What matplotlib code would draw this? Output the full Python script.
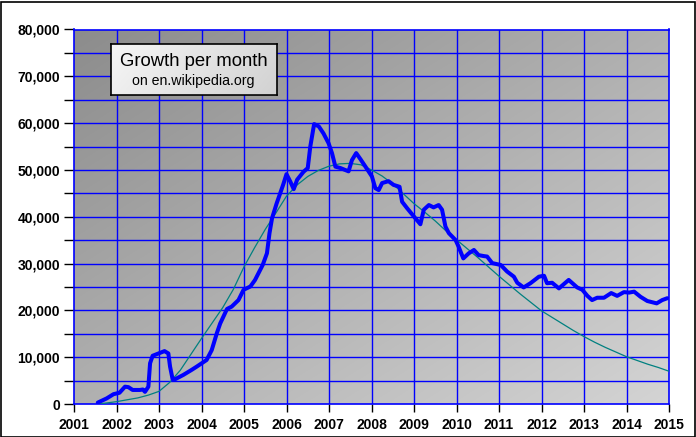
import numpy as np
import matplotlib
matplotlib.use("Agg")
import matplotlib.pyplot as plt
from matplotlib.patches import Rectangle
from matplotlib.ticker import MultipleLocator, FuncFormatter

# monthly growth of en.wikipedia (articles per month)
growth_years = [2001.56, 2001.77, 2001.93, 2002.07, 2002.20, 2002.28, 2002.38, 2002.55,
                2002.62, 2002.67, 2002.75, 2002.79, 2002.85, 2002.99, 2003.13, 2003.22,
                2003.26, 2003.32, 2003.38, 2003.57, 2003.77, 2003.89, 2004.12, 2004.24,
                2004.36, 2004.44, 2004.60, 2004.71, 2004.87, 2004.99, 2005.15, 2005.26,
                2005.44, 2005.54, 2005.60, 2005.66, 2005.77, 2005.92, 2006.00, 2006.09,
                2006.17, 2006.25, 2006.40, 2006.50, 2006.56, 2006.65, 2006.76, 2006.87,
                2006.99, 2007.07, 2007.15, 2007.27, 2007.46, 2007.54, 2007.64, 2007.74,
                2007.88, 2008.01, 2008.09, 2008.17, 2008.25, 2008.40, 2008.52, 2008.66,
                2008.72, 2008.84, 2009.03, 2009.15, 2009.23, 2009.35, 2009.46, 2009.58,
                2009.66, 2009.74, 2009.82, 2009.98, 2010.05, 2010.16, 2010.29, 2010.41,
                2010.52, 2010.64, 2010.72, 2010.84, 2011.04, 2011.19, 2011.35, 2011.43,
                2011.58, 2011.74, 2011.94, 2012.06, 2012.13, 2012.25, 2012.41, 2012.64,
                2012.84, 2012.96, 2013.08, 2013.19, 2013.31, 2013.47, 2013.64, 2013.78,
                2013.94, 2014.06, 2014.18, 2014.33, 2014.49, 2014.71, 2014.84, 2014.96]
growth_values = [300, 1200, 2100, 2400, 3700, 3600, 3000, 3000,
                 3100, 2600, 3700, 8700, 10300, 10800, 11300, 10800,
                 8000, 5300, 5300, 6200, 7300, 8000, 9400, 11500,
                 15100, 17200, 20300, 20800, 22200, 24400, 25100, 26500,
                 29700, 32200, 36500, 39700, 42900, 46800, 49100, 47500,
                 45900, 47900, 49600, 50400, 55000, 59800, 59300, 57800,
                 55700, 53600, 50700, 50400, 49700, 52100, 53600, 52300,
                 50400, 48600, 46100, 45700, 47200, 47600, 46800, 46400,
                 43200, 41800, 39700, 38400, 41500, 42500, 42000, 42500,
                 41500, 37900, 36500, 35000, 33600, 31100, 32200, 32900,
                 31800, 31600, 31500, 30100, 29700, 28300, 27200, 25900,
                 24900, 25800, 27200, 27400, 25800, 25900, 24700, 26500,
                 24900, 24400, 23100, 22200, 22700, 22700, 23700, 23100,
                 23900, 23800, 24000, 22900, 22000, 21500, 22200, 22600]

# fitted trend curve (thin teal line)
trend_years = [2001.55, 2001.75, 2002.0, 2002.25, 2002.5, 2002.75, 2003.0, 2003.25,
               2003.5, 2003.75, 2004.0, 2004.25, 2004.5, 2004.75, 2005.0, 2005.25,
               2005.5, 2005.75, 2006.0, 2006.25, 2006.5, 2006.75, 2007.0, 2007.25,
               2007.5, 2007.75, 2008.0, 2008.25, 2008.5, 2008.75, 2009.0, 2009.25,
               2009.5, 2009.75, 2010.0, 2010.25, 2010.5, 2010.75, 2011.0, 2011.25,
               2011.5, 2011.75, 2012.0, 2012.25, 2012.5, 2012.75, 2013.0, 2013.25,
               2013.5, 2013.75, 2014.0, 2014.25, 2014.5, 2014.75, 2015.0]
trend_values = [0, 200, 500, 900, 1300, 1900, 2700, 4600,
                7200, 10600, 14000, 17300, 20600, 24500, 29300, 33400,
                37300, 40800, 44400, 46800, 48600, 49900, 50800, 51300,
                51400, 51100, 50000, 48700, 47000, 44900, 42800, 41000,
                39100, 37000, 35100, 33200, 31300, 29300, 27300, 25400,
                23500, 21700, 19900, 18500, 17100, 15700, 14400, 13200,
                12100, 11100, 10100, 9300, 8500, 7800, 7000]

year_ticks = list(range(2001, 2016))

W, H = 696, 437
fig = plt.figure(figsize=(W / 100, H / 100), dpi=100)
fig.patch.set_facecolor("white")
fig.patches.append(Rectangle((0.5 / W, 0.5 / H), 1 - 2 / W, 1 - 2 / H,
                             transform=fig.transFigure, fill=False,
                             edgecolor="black", linewidth=1.2))

left, right, top, bottom = 74, 669, 29.5, 404
ax = fig.add_axes([left / W, (H - bottom) / H, (right - left) / W, (bottom - top) / H])

# diagonal grey gradient background: ~#8c8c8c top-left to ~#d4d4d4 bottom-right
gx, gy = np.meshgrid(np.linspace(0, 1, 200), np.linspace(0, 1, 200))
shade = (140 + 72 * (gx + gy) / 2) / 255
ax.imshow(np.dstack([shade, shade, shade]), extent=[0, 1, 0, 1],
          transform=ax.transAxes, aspect="auto", zorder=0, interpolation="bilinear")

ax.set_xlim(2001, 2015)
ax.set_ylim(0, 80000)
ax.xaxis.set_major_locator(MultipleLocator(1))
ax.yaxis.set_major_locator(MultipleLocator(10000))
ax.yaxis.set_minor_locator(MultipleLocator(5000))
ax.yaxis.set_major_formatter(FuncFormatter(lambda v, p: f"{int(v):,}"))
ax.xaxis.set_major_formatter(FuncFormatter(lambda v, p: f"{int(v)}"))

for yv in range(5000, 80000, 5000):
    ax.axhline(yv, color="#0000ff", linewidth=1.0, zorder=1)
for xv in year_ticks[1:-1]:
    ax.axvline(xv, color="#0000ff", linewidth=1.0, zorder=1)
for s in ax.spines.values():
    s.set_color("#0000ff")
    s.set_linewidth(1.2)

ax.tick_params(axis="both", which="both", direction="out", color="black", width=1)
ax.tick_params(axis="y", which="major", length=7, pad=3)
ax.tick_params(axis="y", which="minor", length=7)
ax.tick_params(axis="x", length=6, pad=4)
for lab in ax.get_xticklabels() + ax.get_yticklabels():
    lab.set_fontfamily("Liberation Sans")
    lab.set_fontweight("bold")
    lab.set_fontsize(10)

ax.plot(trend_years, trend_values, color="#008080", linewidth=0.9, zorder=3)
ax.plot(growth_years, growth_values, color="#0000ff", linewidth=2.9, zorder=4,
        solid_joinstyle="round", solid_capstyle="round")

# title box with light horizontal gradient
bx0, by0, bx1, by1 = 110.5, 43.5, 276.5, 94.5
bax = fig.add_axes([bx0 / W, (H - by1) / H, (bx1 - bx0) / W, (by1 - by0) / H])
bgx, bgy = np.meshgrid(np.linspace(0, 1, 100), np.linspace(0, 1, 100))
bshade = (246 - 36 * (0.8 * bgx + 0.2 * bgy)) / 255
bax.imshow(np.dstack([bshade, bshade, bshade]), extent=[0, 1, 0, 1],
           aspect="auto", interpolation="bilinear")
bax.set_xticks([])
bax.set_yticks([])
for s in bax.spines.values():
    s.set_color("black")
    s.set_linewidth(1.2)
bax.text(0.5, 0.65, "Growth per month", ha="center", va="center",
         fontsize=13.3, family="Liberation Sans", transform=bax.transAxes)
bax.text(0.5, 0.27, "on en.wikipedia.org", ha="center", va="center",
         fontsize=10.2, family="Liberation Sans", transform=bax.transAxes)

fig.savefig("out.png", dpi=100)
